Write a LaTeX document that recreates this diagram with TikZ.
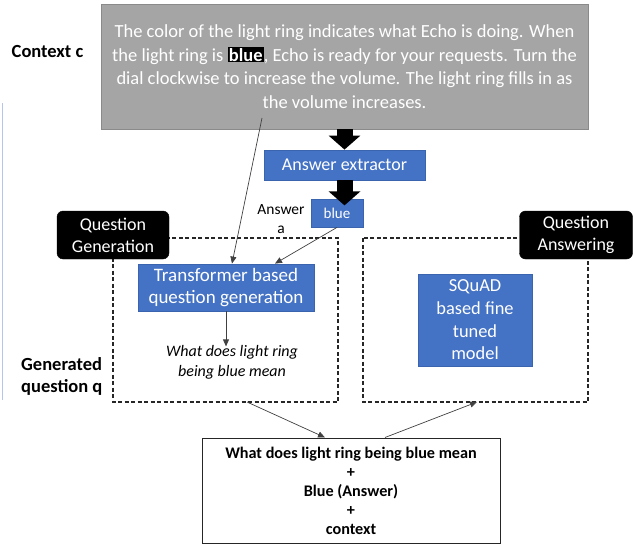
\documentclass[tikz,border=0pt]{standalone}
\usepackage{fontspec}
\setmainfont{Carlito}
\usetikzlibrary{arrows.meta,calc}
\definecolor{boxblue}{HTML}{4472C4}
\definecolor{boxblueline}{HTML}{3A64AE}
\definecolor{ctxgrey}{HTML}{A5A5A5}
\definecolor{ctxline}{HTML}{8A8A8A}
\definecolor{faintblue}{HTML}{B4C7E7}
\definecolor{thinline}{HTML}{404040}
\tikzset{
  bluenode/.style={draw=boxblueline, line width=0.8pt, fill=boxblue, text=white, inner sep=0pt, align=center, font=\fontsize{18}{22.5}\selectfont},
  blacknode/.style={draw=black, fill=black, rounded corners=6pt, text=white, inner sep=0pt, align=center, minimum width=112pt, minimum height=48pt, font=\fontsize{18}{22}\selectfont},
  dashbox/.style={draw=black!85, line width=1.1pt, dash pattern=on 4pt off 2.5pt},
  bigarrow/.style={line width=16pt, -{Triangle[width=31pt,length=14pt]}},
  thinarrow/.style={draw=thinline, line width=0.7pt, -{Triangle[width=6pt,length=7pt]}},
  plainlabel/.style={inner sep=0pt, align=center},
}
\begin{document}
\begin{tikzpicture}[x=1pt,y=-1pt]
\useasboundingbox (0,0) rectangle (633,546);
% faint left line
\draw[faintblue, line width=0.8pt] (2.5,103) -- (2.5,400);
% dashed group frames
\draw[dashbox] (113,238) rectangle (338,402);
\draw[dashbox] (363,238) rectangle (588,402);
% context box
\node[draw=ctxline, line width=0.8pt, fill=ctxgrey, text=white, inner sep=0pt, minimum width=487pt, minimum height=125pt, align=center, font=\fontsize{18.5}{23.6}\selectfont] (ctx) at (344.5,66.5)
 {The color of the light ring indicates what Echo is doing. When\\
  the light ring is {\setlength\fboxsep{1.2pt}\colorbox{black}{\textbf{blue}}}, Echo is ready for your requests. Turn the\\
  dial clockwise to increase the volume. The light ring fills in as\\
  the volume increases.};
\node[plainlabel, font=\fontsize{18.5}{22}\selectfont\bfseries] (ctxlabel) at (47.5,52) {Context c};
% answer extractor
\node[bluenode, minimum width=161pt, minimum height=30pt] (ae) at (344.5,165) {Answer extractor};
\node[bluenode, minimum width=52pt, minimum height=28pt, font=\fontsize{15}{17}\selectfont] (blue) at (337,213) {blue};
\node[plainlabel, font=\fontsize{15.5}{19}\selectfont] (anslabel) at (281,219) {Answer\\a};
\draw[bigarrow] (ctx.south -| ae.north) -- (ae.north);
\draw[bigarrow] (ae.south) -- ($(ae.south)+(0,25)$) coordinate (bluetip);
% group labels
\node[blacknode] (qg) at (113,235) {Question\\Generation};
\node[blacknode, minimum width=113pt] (qa) at (576,235) {Question\\Answering};
% transformer
\node[bluenode, minimum width=176pt, minimum height=47pt, font=\fontsize{19}{22}\selectfont] (tr) at (226,287.5) {Transformer based\\question generation};
\node[bluenode, minimum width=114pt, minimum height=92pt, font=\fontsize{18.4}{22.7}\selectfont] (sq) at (475,320) {SQuAD\\based fine\\tuned\\model};
\node[plainlabel, font=\fontsize{16}{20}\selectfont\itshape] (gq) at (232,362) {What does light ring\\being blue mean};
\node[plainlabel, anchor=west, align=left, font=\fontsize{18.5}{22}\selectfont\bfseries] (gqlabel) at (21,376) {Generated\\question q};
% thin connectors
\coordinate (ctxfoot) at (262,118);
\draw[thinarrow] (ctxfoot) -- (tr.north -| 232,0);
\draw[thinarrow] (blue.south) -- (tr.north -| 275,0);
\draw[thinarrow] (tr.south) -- ($(tr.south)+(0,35)$) coordinate (gqtop);
% bottom box
\node[draw=black!85, line width=1pt, fill=white, inner sep=0pt, minimum width=298pt, minimum height=105pt, align=center, font=\fontsize{16.2}{19}\selectfont\bfseries] (res) at (351,490.5)
 {What does light ring being blue mean\\+\\Blue (Answer)\\+\\context};
\coordinate (lgfoot) at (247,402);
\coordinate (rgfoot) at (477,402);
\draw[thinarrow] (lgfoot) -- (res.north -| 325,0);
\draw[thinarrow] (res.north -| 385,0) -- (rgfoot);
\end{tikzpicture}
\end{document}
